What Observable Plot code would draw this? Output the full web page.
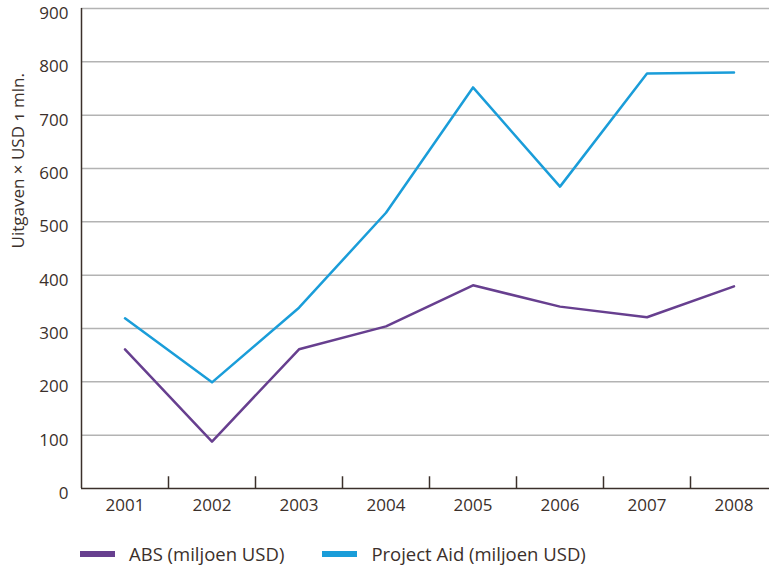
<!DOCTYPE html>
<html>
<head>
<meta charset="utf-8">
<script src="https://cdn.jsdelivr.net/npm/d3@7"></script>
<script src="https://cdn.jsdelivr.net/npm/@observablehq/plot@0.6"></script>
<style>
  html, body { margin: 0; padding: 0; background: #fff; overflow: hidden; }
  body { width: 769px; height: 568px; font-family: "Open Sans", Lato, sans-serif; font-variant-numeric: oldstyle-nums; color: #3b302b; }
  #legend { position: absolute; top: 541px; left: 80px; display: flex; align-items: center; font-size: 18.5px; }
  .item { display: flex; align-items: center; margin-right: 38px; }
  .sw { width: 35px; height: 6px; margin-right: 14px; }
</style>
</head>
<body>
<div id="chart"></div>
<div id="legend"></div>
<script>
const years = [2001, 2002, 2003, 2004, 2005, 2006, 2007, 2008];
const abs = [261, 88, 261, 304, 381, 341, 321, 379];
const projectAid = [319, 199, 339, 517, 752, 566, 778, 780];
const yTicks = [0, 100, 200, 300, 400, 500, 600, 700, 800, 900];
const seriesNames = ["ABS (miljoen USD)", "Project Aid (miljoen USD)"];
const seriesColors = ["#673f8f", "#1a9dd9"];

const data = [];
years.forEach((y, i) => {
  data.push({year: y, value: abs[i], series: seriesNames[0]});
  data.push({year: y, value: projectAid[i], series: seriesNames[1]});
});
const boundaries = years.slice(0, -1).map(y => y + 0.5);
const ink = "#3b302b";

const chart = Plot.plot({
  width: 769,
  height: 525,
  marginLeft: 81,
  marginRight: 0,
  marginTop: 8,
  marginBottom: 37,
  style: {fontFamily: "'Open Sans', Lato, sans-serif", fontSize: "17px", color: ink, fontVariantNumeric: "oldstyle-nums", overflow: "visible"},
  x: {domain: [2000.5, 2008.5], range: [81, 777]},
  y: {domain: [0, 900]},
  color: {domain: seriesNames, range: seriesColors},
  marks: [
    Plot.ruleY(yTicks.filter(d => d > 0), {stroke: "#b3b3b3", strokeWidth: 1.5}),
    Plot.ruleY([0], {stroke: ink, strokeWidth: 1.5}),
    Plot.ruleX([2000.5], {y1: 0, y2: 900, stroke: ink, strokeWidth: 1.5}),
    Plot.ruleX(boundaries, {y1: 0, y2: 22, stroke: ink, strokeWidth: 1.5}),
    Plot.line(data, {x: "year", y: "value", z: "series", stroke: "series", strokeWidth: 2.5}),
    Plot.axisY(yTicks, {tickSize: 0, tickPadding: 13, dy: 5, fontSize: 17, fill: ink, label: null}),
    Plot.text(["Uitgaven × USD 1 mln."], {frameAnchor: "left", dx: -63, rotate: -90, fontSize: 17, fill: ink}),
    Plot.axisX(years, {tickSize: 0, tickPadding: 10, fontSize: 17, fill: ink, tickFormat: d => String(d), label: null, style: {letterSpacing: "0.5px"}})
  ]
});
document.getElementById("chart").appendChild(chart);

const legend = document.getElementById("legend");
seriesNames.forEach((name, i) => {
  const item = document.createElement("div");
  item.className = "item";
  const sw = document.createElement("div");
  sw.className = "sw";
  sw.style.background = seriesColors[i];
  const t = document.createElement("span");
  t.textContent = name;
  item.appendChild(sw);
  item.appendChild(t);
  legend.appendChild(item);
});
</script>
</body>
</html>
